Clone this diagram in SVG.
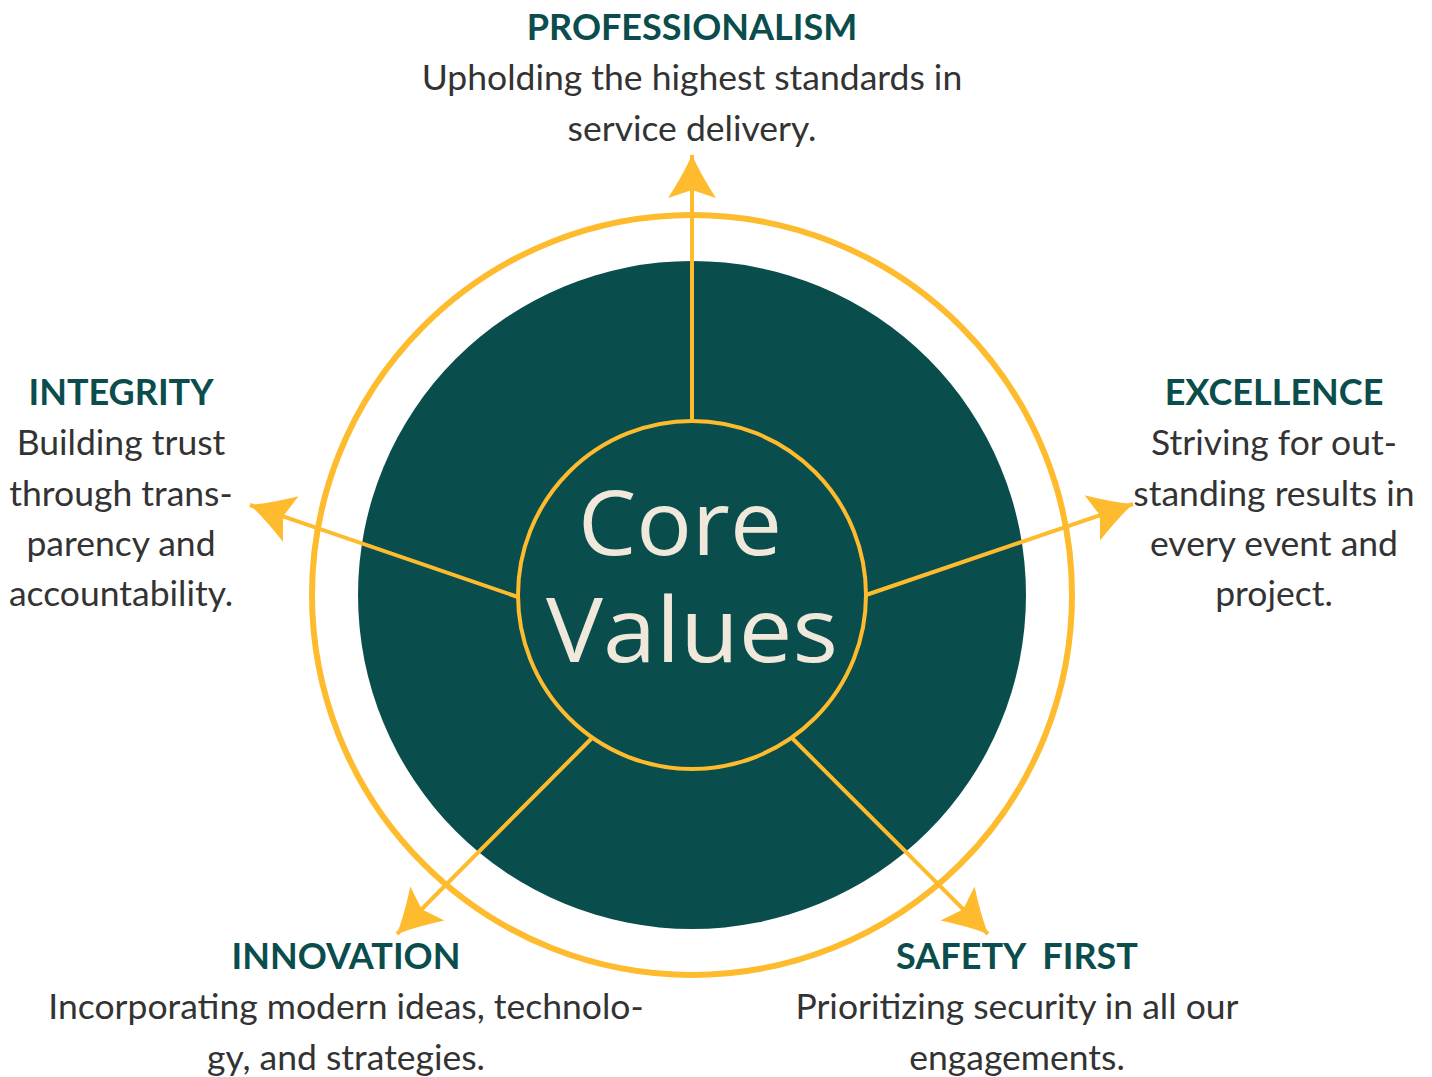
<svg xmlns="http://www.w3.org/2000/svg" width="1432" height="1077" viewBox="0 0 1432 1077">
<style>
.title{font-family:Lato,"Liberation Sans",sans-serif;font-weight:700;font-size:36px;fill:#0a4d4c;text-anchor:middle;white-space:pre}
.body{font-family:Lato,"Liberation Sans",sans-serif;font-size:35.5px;fill:#333333;text-anchor:middle}
.center{font-family:"Open Sans",Inter,sans-serif;font-size:90px;fill:#f1e8dc;text-anchor:middle}
.conn{stroke:#fdbb2d;stroke-width:4;fill:none}
</style>
<defs>
<marker id="ah" markerUnits="userSpaceOnUse" markerWidth="60" markerHeight="60" viewBox="-50 -30 60 60" refX="0" refY="0" orient="auto">
<path d="M0 0 Q-20 -9 -43 -24 L-35 0 L-43 24 Q-20 9 0 0 Z" fill="#fdbb2d"/>
</marker>
</defs>
<rect width="1432" height="1077" fill="#ffffff"/>
<g id="ring">
<circle cx="692" cy="595" r="380" fill="none" stroke="#fdbb2d" stroke-width="6"/>
<circle cx="692" cy="595" r="334" fill="#094d4c"/>
</g>
<g id="connectors">
<line class="conn" x1="692" y1="421" x2="692" y2="155" marker-end="url(#ah)"/>
<line class="conn" x1="518" y1="597" x2="250" y2="505" marker-end="url(#ah)"/>
<line class="conn" x1="866" y1="595" x2="1133" y2="504" marker-end="url(#ah)"/>
<line class="conn" x1="592" y1="738" x2="397" y2="934" marker-end="url(#ah)"/>
<line class="conn" x1="792" y1="738" x2="988" y2="934" marker-end="url(#ah)"/>
</g>
<g id="core">
<circle cx="692" cy="595" r="174" fill="#094d4c" stroke="#fdbb2d" stroke-width="4"/>
<text class="center" x="680" y="555" textLength="204" lengthAdjust="spacingAndGlyphs">Core</text>
<text class="center" x="692" y="662" textLength="292" lengthAdjust="spacingAndGlyphs">Values</text>
</g>
<g id="professionalism">
<text class="title" x="692" y="40">PROFESSIONALISM</text>
<text class="body" x="692" y="90">Upholding the highest standards in</text>
<text class="body" x="692" y="141">service delivery.</text>
</g>
<g id="integrity">
<text class="title" x="121" y="405">INTEGRITY</text>
<text class="body" x="121" y="455">Building trust</text>
<text class="body" x="121" y="506">through trans-</text>
<text class="body" x="121" y="556">parency and</text>
<text class="body" x="121" y="606">accountability.</text>
</g>
<g id="excellence">
<text class="title" x="1274" y="405">EXCELLENCE</text>
<text class="body" x="1274" y="455">Striving for out-</text>
<text class="body" x="1274" y="506">standing results in</text>
<text class="body" x="1274" y="556">every event and</text>
<text class="body" x="1274" y="606">project.</text>
</g>
<g id="innovation">
<text class="title" x="346" y="969">INNOVATION</text>
<text class="body" x="346" y="1019">Incorporating modern ideas, technolo-</text>
<text class="body" x="346" y="1070">gy, and strategies.</text>
</g>
<g id="safety-first">
<text class="title" x="1017" y="969" xml:space="preserve">SAFETY  FIRST</text>
<text class="body" x="1017" y="1019">Prioritizing security in all our</text>
<text class="body" x="1017" y="1070">engagements.</text>
</g>
</svg>
